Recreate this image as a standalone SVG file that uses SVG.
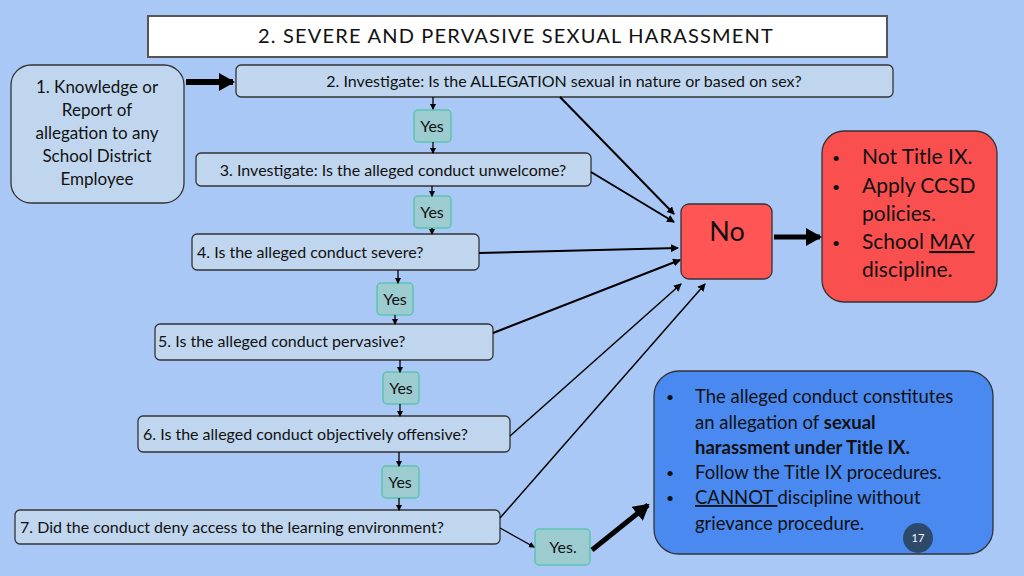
<svg xmlns="http://www.w3.org/2000/svg" width="1024" height="576" viewBox="0 0 1024 576">
<defs>
<marker id="a" markerWidth="8" markerHeight="8" refX="7" refY="4" orient="auto" markerUnits="userSpaceOnUse"><path d="M0,0L8,4L0,8z" fill="#000"/></marker>
<marker id="b" markerWidth="16" markerHeight="18" refX="14" refY="9" orient="auto" markerUnits="userSpaceOnUse"><path d="M0,0L16,9L0,18z" fill="#000"/></marker>
<marker id="s" markerWidth="6" markerHeight="6" refX="5" refY="3" orient="auto" markerUnits="userSpaceOnUse"><path d="M0,0L6,3L0,6z" fill="#000"/></marker>
</defs>
<style>
text{font-family:Lato,"Open Sans",sans-serif;fill:#111}
.q{fill:#c0d6ee;stroke:#333;stroke-width:1.3}
.y{fill:#9ccbd0;stroke:#5cc4b0;stroke-width:1.5}
.t{font-size:16px}
.c{text-anchor:middle}
.l{stroke:#000;stroke-width:2;fill:none}
.sm{stroke:#000;stroke-width:1.3;marker-end:url(#s)}
.big{font-size:21px}
.bl{font-size:18.5px}
.d{font-size:14px}
</style>
<rect width="1024" height="576" fill="#aac8f5"/>
<g id="title"><rect x="148" y="16" width="739" height="41" fill="#fff" stroke="#555" stroke-width="2"/><text x="516" y="43" class="c" font-size="20" letter-spacing="1.2">2. SEVERE AND PERVASIVE SEXUAL HARASSMENT</text></g>
<g id="n1"><rect x="11" y="65" width="173" height="138" rx="20" class="q"/>
<text class="c" font-size="17"><tspan x="97" y="93">1. Knowledge or</tspan><tspan x="97" y="116">Report of</tspan><tspan x="97" y="139">allegation to any</tspan><tspan x="97" y="162">School District</tspan><tspan x="97" y="185">Employee</tspan></text></g>
<g id="n2"><rect x="236" y="65" width="657" height="32" rx="5" class="q"/><text x="564" y="87" class="t c">2. Investigate: Is the ALLEGATION sexual in nature or based on sex?</text></g>
<g id="y1"><rect x="414" y="110" width="37" height="32" rx="4" class="y"/><text x="432" y="132" class="t c">Yes</text></g>
<g id="n3"><rect x="196" y="153" width="395" height="33" rx="5" class="q"/><text x="393" y="176" class="t c">3. Investigate: Is the alleged conduct unwelcome?</text></g>
<g id="y2"><rect x="414" y="196" width="37" height="32" rx="4" class="y"/><text x="432" y="218" class="t c">Yes</text></g>
<g id="n4"><rect x="192" y="234" width="287" height="36" rx="5" class="q"/><text x="197" y="258" class="t">4. Is the alleged conduct severe?</text></g>
<g id="y3"><rect x="377" y="283" width="36" height="32" rx="4" class="y"/><text x="395" y="305" class="t c">Yes</text></g>
<g id="n5"><rect x="155" y="324" width="338" height="36" rx="5" class="q"/><text x="158" y="347" class="t">5. Is the alleged  conduct pervasive?</text></g>
<g id="y4"><rect x="383" y="372" width="36" height="32" rx="4" class="y"/><text x="401" y="394" class="t c">Yes</text></g>
<g id="n6"><rect x="138" y="416" width="372" height="36" rx="5" class="q"/><text x="143" y="440" class="t">6. Is the alleged conduct objectively offensive?</text></g>
<g id="y5"><rect x="382" y="466" width="37" height="32" rx="4" class="y"/><text x="400" y="488" class="t c">Yes</text></g>
<g id="n7"><rect x="15" y="510" width="485" height="34" rx="5" class="q"/><text x="20" y="533" class="t">7. Did the conduct deny access to the learning environment?</text></g>
<g id="y6"><rect x="535" y="529" width="55" height="36" rx="4" class="y"/><text x="563" y="553" class="t c">Yes.</text></g>
<g id="no"><rect x="681" y="204" width="91" height="75" rx="8" fill="#f55" stroke="#333" stroke-width="1.3"/><text x="727" y="241" class="c" font-size="27">No</text></g>
<g id="red"><rect x="822" y="131" width="175" height="171" rx="22" fill="#fa4f4f" stroke="#333" stroke-width="1.3"/>
<text class="big"><tspan x="832" y="163" class="d">•</tspan><tspan x="862" y="164">Not Title IX.</tspan><tspan x="832" y="192" class="d">•</tspan><tspan x="862" y="193">Apply CCSD</tspan><tspan x="862" y="221">policies.</tspan><tspan x="832" y="248" class="d">•</tspan><tspan x="862" y="249">School <tspan text-decoration="underline">MAY</tspan></tspan><tspan x="862" y="277">discipline.</tspan></text></g>
<g id="blue"><rect x="654" y="371" width="339" height="183" rx="25" fill="#4a8af0" stroke="#333" stroke-width="1.3"/>
<text class="bl"><tspan x="666" y="402" class="d">•</tspan><tspan x="695" y="403">The alleged conduct constitutes</tspan><tspan x="695" y="429">an allegation of  <tspan font-weight="bold">sexual</tspan></tspan><tspan x="695" y="454" font-weight="bold">harassment under Title IX.</tspan><tspan x="666" y="478" class="d">•</tspan><tspan x="695" y="479">Follow the Title IX procedures.</tspan><tspan x="666" y="503" class="d">•</tspan><tspan x="695" y="504"><tspan text-decoration="underline">CANNOT </tspan>discipline without</tspan><tspan x="695" y="530">grievance procedure.</tspan></text>
<circle cx="918" cy="538" r="15" fill="#2d4a6b"/><text x="918" y="542" class="c" font-size="11" style="fill:#fff">17</text></g>
<g id="connectors">
<line x1="186" y1="82" x2="233" y2="82" stroke="#000" stroke-width="6" marker-end="url(#b)"/>
<line x1="774" y1="237" x2="820" y2="237" stroke="#000" stroke-width="5" marker-end="url(#b)"/>
<line x1="592" y1="550" x2="648" y2="505" stroke="#000" stroke-width="5" marker-end="url(#b)"/>
<line x1="433" y1="97" x2="433" y2="109" class="sm"/>
<line x1="433" y1="142" x2="433" y2="153" class="sm"/>
<line x1="432" y1="186" x2="432" y2="196" class="sm"/>
<line x1="432" y1="228" x2="432" y2="234" class="sm"/>
<line x1="398" y1="270" x2="398" y2="283" class="sm"/>
<line x1="395" y1="315" x2="395" y2="324" class="sm"/>
<line x1="400" y1="360" x2="400" y2="372" class="sm"/>
<line x1="400" y1="404" x2="400" y2="416" class="sm"/>
<line x1="399" y1="452" x2="399" y2="466" class="sm"/>
<line x1="399" y1="498" x2="399" y2="510" class="sm"/>
<line x1="500" y1="528" x2="534" y2="547" class="sm"/>
<line x1="560" y1="97" x2="674" y2="214" class="l" marker-end="url(#a)"/>
<line x1="591" y1="172" x2="674" y2="222" class="l" marker-end="url(#a)"/>
<line x1="479" y1="253" x2="678" y2="248" class="l" marker-end="url(#a)"/>
<line x1="493" y1="333" x2="680" y2="260" class="l" marker-end="url(#a)"/>
<line x1="510" y1="436" x2="681" y2="284" stroke="#000" stroke-width="1.5" marker-end="url(#a)"/>
<line x1="500" y1="518" x2="705" y2="284" stroke="#000" stroke-width="1.5" marker-end="url(#a)"/>
</g>
</svg>
